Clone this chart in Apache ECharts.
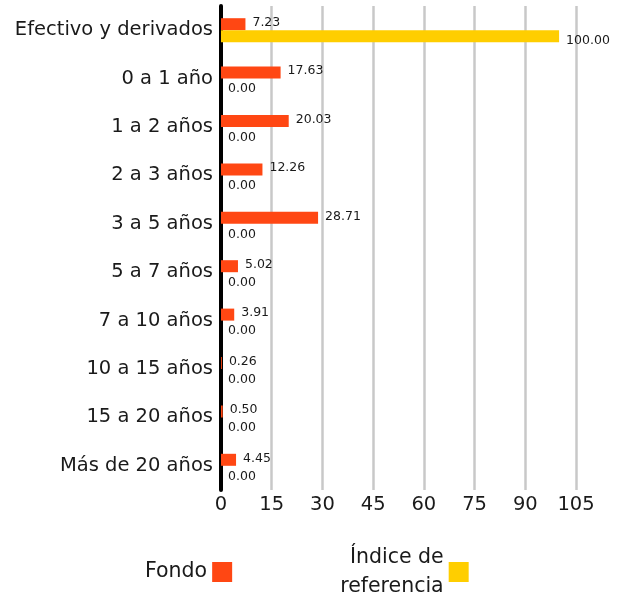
<!DOCTYPE html>
<html><head><meta charset="utf-8">
<script src="https://cdn.jsdelivr.net/npm/echarts@6/dist/echarts.min.js"></script>
<style>html,body{margin:0;padding:0;background:#fff}#c{width:627px;height:594px}</style>
</head><body><div id="c"></div>
<script>
const categories = ["Efectivo y derivados","0 a 1 año","1 a 2 años","2 a 3 años","3 a 5 años","5 a 7 años","7 a 10 años","10 a 15 años","15 a 20 años","Más de 20 años"];
const fondo = [7.23,17.63,20.03,12.26,28.71,5.02,3.91,0.26,0.50,4.45];
const indice = [100.00,0,0,0,0,0,0,0,0,0];
const seriesNames = ["Fondo","Índice de\nreferencia"];
const xTicks = {min:0,max:105,interval:15};

const FONT = "DejaVu Sans";
const chart = echarts.init(document.getElementById('c'));
const lbl = (dy) => ({show:true,position:'right',distance:7,offset:[0,dy],fontFamily:FONT,fontSize:12.5,color:'#1a1a1a',formatter:p=>p.value.toFixed(2)});
chart.setOption({
  animation:false,
  textStyle:{fontFamily:FONT},
  grid:{left:221,right:51,top:6,bottom:104,containLabel:false},
  legend:{
    top:538,left:140,align:'right',itemWidth:20,itemHeight:20,itemGap:108,
    icon:'rect',
    textStyle:{fontFamily:FONT,fontSize:20.5,color:'#1a1a1a',lineHeight:29},
    data:seriesNames
  },
  xAxis:{type:'value',min:xTicks.min,max:xTicks.max,interval:xTicks.interval,
    axisLine:{show:false},axisTick:{show:false},
    axisLabel:{fontFamily:FONT,fontSize:19.5,color:'#1a1a1a',margin:5},
    splitLine:{lineStyle:{color:'#c8c8c8',width:2.5}}},
  yAxis:{type:'category',data:categories,inverse:true,
    axisLine:{lineStyle:{color:'#000',width:4}},axisTick:{show:false},
    axisLabel:{fontFamily:FONT,fontSize:19.5,color:'#1a1a1a',margin:8}},
  series:[
    {name:seriesNames[0],type:'bar',data:fondo,barWidth:12,barGap:'0%',itemStyle:{color:'#FF4713'},label:lbl(-1.5),z:3},
    {name:seriesNames[1],type:'bar',data:indice,barWidth:12,barGap:'0%',itemStyle:{color:'#FFCE00'},label:lbl(4.5),z:3}
  ]
});
</script></body></html>
